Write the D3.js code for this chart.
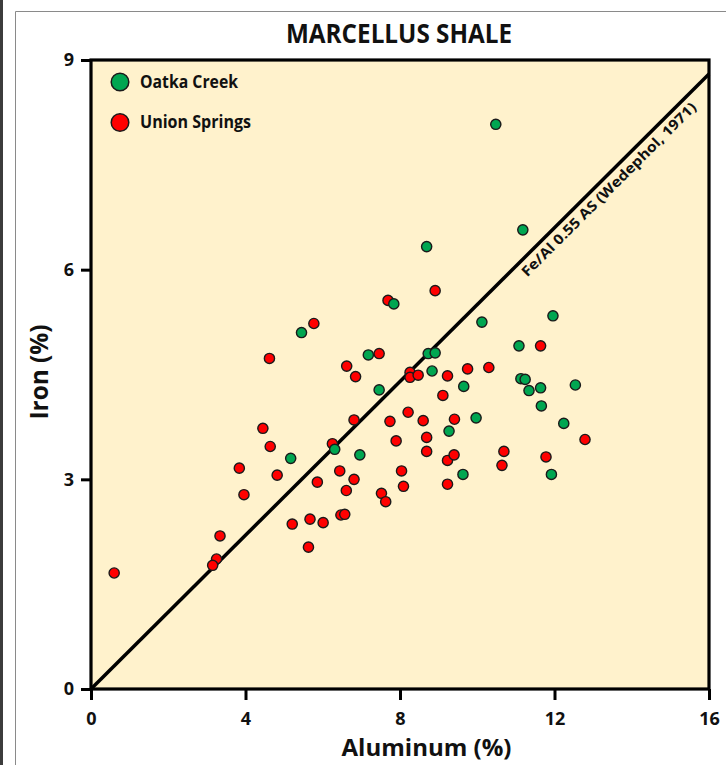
<!DOCTYPE html>
<html>
<head>
<meta charset="utf-8">
<script src="https://cdn.jsdelivr.net/npm/d3@7/dist/d3.min.js"></script>
<style>
  html, body { margin: 0; padding: 0; background: #ffffff; }
  svg { display: block; }
  text { font-family: "Open Sans", "Noto Sans", sans-serif; font-weight: 700; fill: #111; }
</style>
</head>
<body>
<svg id="chart" width="726" height="765"></svg>
<script>
// Marcellus Shale: iron vs aluminum concentrations (%)
const chartTitle = "MARCELLUS SHALE";
const xTitle = "Aluminum (%)";
const yTitle = "Iron (%)";
const seriesNames = ["Oatka Creek", "Union Springs"];
const seriesColors = ["#00a651", "#ff0000"];

// Oatka Creek samples
const oatkaAl = [10.48, 11.18, 8.69, 11.96, 10.12, 5.45, 7.84, 7.18, 7.46, 8.73,
                 8.91, 8.83, 9.65, 11.08, 11.13, 11.24, 11.34, 11.64, 12.54, 11.66,
                 9.97, 9.27, 12.24, 11.92, 9.63, 6.31, 5.17, 6.96];
const oatkaFe = [8.08, 6.57, 6.33, 5.34, 5.25, 5.10, 5.51, 4.78, 4.28, 4.80,
                 4.81, 4.55, 4.33, 4.91, 4.44, 4.43, 4.27, 4.31, 4.35, 4.05,
                 3.88, 3.69, 3.80, 3.07, 3.07, 3.43, 3.30, 3.35];

// Union Springs samples
const unionAl = [7.69, 8.91, 5.77, 4.62, 7.46, 6.62, 6.85, 11.64, 8.26, 8.26,
                 8.47, 9.23, 9.75, 10.30, 9.11, 4.45, 6.81, 7.74, 8.21, 8.60,
                 9.41, 4.64, 6.25, 7.90, 8.69, 12.79, 3.84, 4.82, 6.44, 6.81,
                 5.86, 8.04, 8.69, 10.69, 11.78, 9.23, 9.40, 10.64, 8.09, 9.23,
                 3.96, 6.61, 7.52, 7.63, 5.21, 5.67, 6.01, 5.63, 6.47, 6.57,
                 3.34, 3.25, 3.15, 0.60];
const unionFe = [5.56, 5.70, 5.23, 4.73, 4.80, 4.62, 4.47, 4.91, 4.53, 4.46,
                 4.49, 4.48, 4.58, 4.60, 4.20, 3.73, 3.85, 3.83, 3.96, 3.84,
                 3.86, 3.47, 3.51, 3.55, 3.60, 3.57, 3.16, 3.06, 3.12, 3.00,
                 2.96, 3.12, 3.40, 3.40, 3.32, 3.27, 3.35, 3.20, 2.90, 2.93,
                 2.78, 2.84, 2.80, 2.68, 2.36, 2.43, 2.38, 2.03, 2.49, 2.50,
                 2.19, 1.86, 1.77, 1.66];

// Average-shale reference ratio
const feAlRatio = 0.55;
const refLabel = "Fe/Al 0.55 AS (Wedephol, 1971)";

const xDomain = [0, 16];
const yDomain = [0, 9];
const xTicks = [0, 4, 8, 12, 16];
const yTicks = [0, 3, 6, 9];

const svg = d3.select("#chart");

// page frame
svg.append("rect").attr("x", 0).attr("y", 0).attr("width", 3).attr("height", 765).attr("fill", "#3c3c3c");
svg.append("path").attr("d", "M15.5,765 V11.5 H726").attr("fill", "none").attr("stroke", "#8a8a8a").attr("stroke-width", 1);

const x = d3.scaleLinear().domain(xDomain).range([91, 709]);
const y = d3.scaleLinear().domain(yDomain).range([689, 60]);

// plot background
svg.append("rect")
  .attr("x", x(xDomain[0])).attr("y", y(yDomain[1]))
  .attr("width", x(xDomain[1]) - x(xDomain[0]))
  .attr("height", y(yDomain[0]) - y(yDomain[1]))
  .attr("fill", "#fff2cc");

// reference line through the origin
const lineGen = d3.line().x(d => x(d[0])).y(d => y(d[1]));
svg.append("path")
  .datum([[xDomain[0], xDomain[0] * feAlRatio], [xDomain[1], xDomain[1] * feAlRatio]])
  .attr("d", lineGen)
  .attr("fill", "none").attr("stroke", "#000").attr("stroke-width", 3.5);

// label running along the line, just beneath it
const angle = Math.atan2(y(0) - y(feAlRatio * 16), x(16) - x(0)) * 180 / Math.PI;
const startAl = 11.0;
const rad = angle * Math.PI / 180;
const px = x(startAl) + 16 * Math.sin(rad);
const py = y(startAl * feAlRatio) + 16 * Math.cos(rad);
svg.append("text")
  .attr("transform", `translate(${px},${py}) rotate(${-angle})`)
  .attr("font-size", 14)
  .attr("textLength", 240).attr("lengthAdjust", "spacingAndGlyphs")
  .text(refLabel);

// axes
const xAxis = svg.append("g")
  .attr("transform", `translate(0,${y(0)})`)
  .call(d3.axisBottom(x).tickValues(xTicks).tickSize(11).tickFormat(d3.format("d")));
xAxis.select(".domain").remove();
xAxis.selectAll(".tick line").attr("stroke", "#000").attr("stroke-width", 3);
xAxis.selectAll(".tick text").attr("y", 36).attr("dy", null)
  .attr("font-size", 18).attr("font-family", null).attr("fill", null);

const yAxis = svg.append("g")
  .attr("transform", `translate(${x(0)},0)`)
  .call(d3.axisLeft(y).tickValues(yTicks).tickSize(10).tickPadding(7).tickFormat(d3.format("d")));
yAxis.select(".domain").remove();
yAxis.selectAll(".tick line").attr("stroke", "#000").attr("stroke-width", 3);
yAxis.selectAll(".tick text").attr("font-size", 18).attr("font-family", null).attr("fill", null);

// plot border
svg.append("rect")
  .attr("x", x(xDomain[0])).attr("y", y(yDomain[1]))
  .attr("width", x(xDomain[1]) - x(xDomain[0]))
  .attr("height", y(yDomain[0]) - y(yDomain[1]))
  .attr("fill", "none").attr("stroke", "#000").attr("stroke-width", 3.2);

// data points
const union = unionAl.map((a, i) => [a, unionFe[i]]);
const oatka = oatkaAl.map((a, i) => [a, oatkaFe[i]]);
function drawSeries(data, color) {
  svg.append("g").selectAll("circle").data(data).join("circle")
    .attr("cx", d => x(d[0])).attr("cy", d => y(d[1]))
    .attr("r", 5.1)
    .attr("fill", color).attr("stroke", "#1a1a1a").attr("stroke-width", 1.4);
}
drawSeries(union, seriesColors[1]);
drawSeries(oatka, seriesColors[0]);

// legend
const legend = svg.append("g");
const legendY = [82, 122.5];
const legendWidths = [98, 111];
seriesNames.forEach((name, i) => {
  legend.append("circle").attr("cx", 120).attr("cy", legendY[i]).attr("r", 8.8)
    .attr("fill", seriesColors[i]).attr("stroke", "#1a1a1a").attr("stroke-width", 1.5);
  legend.append("text").attr("x", 140).attr("y", legendY[i] + 5.8)
    .attr("font-size", 17).attr("fill", "#222")
    .attr("textLength", legendWidths[i]).attr("lengthAdjust", "spacingAndGlyphs")
    .text(name);
});

// titles
svg.append("text").attr("x", 399).attr("y", 43).attr("text-anchor", "middle")
  .attr("font-size", 26).attr("textLength", 226).attr("lengthAdjust", "spacingAndGlyphs")
  .text(chartTitle);
svg.append("text").attr("x", 426.5).attr("y", 756).attr("text-anchor", "middle")
  .attr("font-size", 24).attr("textLength", 170).attr("lengthAdjust", "spacingAndGlyphs")
  .text(xTitle);
svg.append("text").attr("transform", `translate(48,372) rotate(-90)`).attr("text-anchor", "middle")
  .attr("font-size", 25).attr("textLength", 95).attr("lengthAdjust", "spacingAndGlyphs")
  .text(yTitle);
</script>
</body>
</html>
